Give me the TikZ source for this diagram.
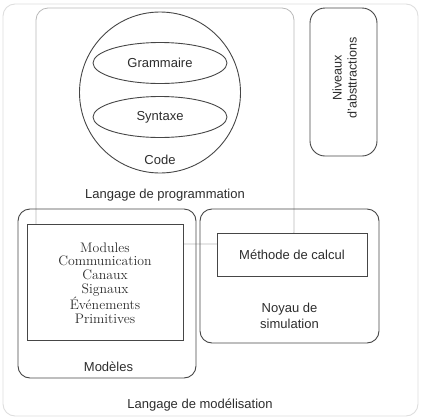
\documentclass[tikz,border=0pt]{standalone}
\usepackage{fontspec}
\setsansfont{Liberation Sans}
\usepackage{xcolor}
\definecolor{LineGray}{RGB}{70,70,70}
\definecolor{FrameGray}{RGB}{222,222,222}
\definecolor{ProgGray}{RGB}{185,185,185}
\definecolor{TextGray}{RGB}{45,45,45}
\usepackage{tikz}
\usetikzlibrary{shapes.geometric,positioning}

\begin{document}
\begin{tikzpicture}[
  x=1pt, y=-1pt,
  lbl/.style={font=\sffamily\fontsize{13}{15}\selectfont, text=TextGray, align=center, inner sep=0pt},
  frame/.style={rectangle, rounded corners=12pt, draw=FrameGray, line width=0.9pt, inner sep=0pt},
  progbox/.style={rectangle, rounded corners=12pt, draw=ProgGray, line width=0.8pt, inner sep=0pt},
  roundbox/.style={rectangle, rounded corners=12pt, draw=LineGray, line width=0.9pt, inner sep=0pt},
  plainbox/.style={rectangle, draw=LineGray, fill=white, line width=0.9pt, inner sep=0pt},
  oval/.style={ellipse, draw=LineGray, line width=0.9pt, inner sep=0pt}
]
  \useasboundingbox (0,0) rectangle (421,418);

  % cadre general
  \node[frame, minimum width=415pt, minimum height=412pt] (modelisation) at (210.5,210) {};
  \node[lbl] (modelisationlbl) at (200,405) {Langage de modélisation};

  % langage de programmation
  \node[progbox, minimum width=258pt, minimum height=236pt] (programmation) at (165,126) {};
  \node[lbl] (programmationlbl) at (165,195) {Langage de programmation};

  \node[circle, draw=LineGray, line width=0.9pt, minimum size=161pt] (code) at (160,92.5) {};
  \node[oval, minimum width=134pt, minimum height=41pt] (grammaire) at (160,63) {};
  \node[oval, minimum width=134pt, minimum height=41pt] (syntaxe) at (160,117) {};
  \node[lbl] at (grammaire) {Grammaire};
  \node[lbl] at (syntaxe) {Syntaxe};
  \node[lbl] (codelbl) at (160,160) {Code};

  % niveaux
  \node[roundbox, rounded corners=15pt, minimum width=67pt, minimum height=148pt] (niveaux) at (343.5,82) {};
  \node[lbl, rotate=90, font=\sffamily\fontsize{12.6}{15}\selectfont] (niveauxlbl) at (344.5,78) {Niveaux\\d'absttractions};

  % modeles
  \node[roundbox, minimum width=178pt, minimum height=169pt] (modeles) at (107,293.5) {};
  \node[plainbox, minimum width=156pt, minimum height=116pt] (elements) at (105,282) {};
  \node[inner sep=0pt, align=center, text=TextGray, font=\fontsize{13.8}{13.6}\selectfont] (elementslbl) at (105,283)
    {Modules\\Communication\\Canaux\\Signaux\\Événements\\Primitives};
  \node[lbl] (modeleslbl) at (108.5,367) {Modèles};

  % noyau
  \node[roundbox, minimum width=179pt, minimum height=134pt] (noyau) at (289.5,276) {};
  \node[plainbox, minimum width=150pt, minimum height=43pt] (calcul) at (292,254.5) {};
  \node[lbl] at (calcul) {Méthode de calcul};
  \node[lbl, font=\sffamily\fontsize{13}{16}\selectfont] (noyaulbl) at (289.5,316) {Noyau de\\simulation};
\end{tikzpicture}
\end{document}
